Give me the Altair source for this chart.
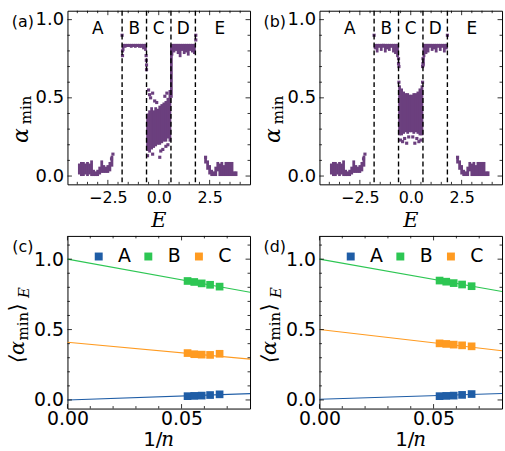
import altair as alt
import pandas as pd

FONT = "DejaVu Sans"
SERIF = "DejaVu Serif"
PURPLE = "#6b3f7e"
BLUE, GREEN, ORANGE = "#1f5da6", "#2dc653", "#ff9b21"

# ---------------- panels (a), (b): alpha_min versus E ----------------
boundary_E = [-1.8, -0.6, 0.6, 1.8]
region_names = ["A", "B", "C", "D", "E"]
region_E = [-3.0, -1.2, 0.0, 1.2, 3.0]
region_alpha = [0.94, 0.94, 0.94, 0.94, 0.94]

# dense point columns: E, lowest alpha, highest alpha
A_E  = [-3.90, -3.80, -3.70, -3.60, -3.50, -3.40, -3.30, -3.20, -3.10, -3.00, -2.90, -2.80, -2.70, -2.60, -2.50, -2.40, -2.30]
A_lo = [0.01, 0.00, 0.00, 0.01, 0.00, 0.01, 0.00, 0.00, 0.00, 0.00, 0.01, 0.02, 0.02, 0.02, 0.02, 0.03, 0.06]
A_hi = [0.08, 0.09, 0.09, 0.08, 0.09, 0.08, 0.10, 0.04, 0.03, 0.04, 0.06, 0.10, 0.07, 0.06, 0.07, 0.09, 0.13]

Ecl_E  = [2.30, 2.40, 2.50, 2.60, 2.70, 2.80, 2.90, 3.00, 3.10, 3.20, 3.30, 3.40, 3.50, 3.60, 3.70, 3.80]
Ecl_lo = [0.08, 0.04, 0.01, 0.00, 0.00, 0.00, 0.03, 0.00, 0.00, 0.00, 0.00, 0.00, 0.00, 0.00, 0.00, 0.00]
Ecl_hi = [0.12, 0.10, 0.07, 0.04, 0.03, 0.06, 0.09, 0.08, 0.09, 0.07, 0.09, 0.09, 0.09, 0.09, 0.03, 0.03]

B_E  = [-1.75, -1.65, -1.55, -1.45, -1.35, -1.25, -1.15, -1.05, -0.95, -0.85, -0.75, -0.65]
D_E  = [0.65, 0.75, 0.85, 0.95, 1.05, 1.15, 1.25, 1.35, 1.45, 1.55, 1.65, 1.75]
BD_hi = [0.845, 0.845, 0.845, 0.845, 0.845, 0.845, 0.845, 0.845, 0.845, 0.845, 0.845, 0.845]
B_lo_a = [0.80, 0.82, 0.825, 0.825, 0.82, 0.825, 0.82, 0.825, 0.82, 0.82, 0.81, 0.80]
D_lo_a = [0.77, 0.79, 0.80, 0.78, 0.76, 0.80, 0.78, 0.79, 0.77, 0.80, 0.79, 0.78]
B_lo_b = [0.81, 0.79, 0.82, 0.80, 0.82, 0.79, 0.81, 0.80, 0.82, 0.79, 0.78, 0.76]
D_lo_b = [0.76, 0.78, 0.79, 0.82, 0.80, 0.81, 0.79, 0.82, 0.80, 0.82, 0.79, 0.81]

C_E  = [-0.55, -0.45, -0.35, -0.25, -0.15, -0.05, 0.05, 0.15, 0.25, 0.35, 0.45, 0.55, 0.62]
C_lo_a = [0.16, 0.15, 0.17, 0.18, 0.19, 0.20, 0.20, 0.21, 0.22, 0.22, 0.24, 0.22, 0.50]
C_hi_a = [0.40, 0.42, 0.44, 0.42, 0.44, 0.43, 0.45, 0.46, 0.47, 0.48, 0.50, 0.55, 0.84]
C_lo_b = [0.26, 0.26, 0.27, 0.28, 0.27, 0.28, 0.28, 0.27, 0.28, 0.27, 0.26, 0.26, 0.70]
C_hi_b = [0.58, 0.56, 0.54, 0.53, 0.53, 0.52, 0.52, 0.53, 0.53, 0.54, 0.56, 0.58, 0.76]

# isolated points
pts_E_a = [-2.25, -2.32, 2.30, -1.80, -1.78, -1.78, -0.62, -0.61, -0.60, -0.60, 1.82, 1.82,
           -0.50, -0.45, -0.40, -0.30, -0.20, -0.10, 0.30, 0.40, 0.20, 0.10, -0.30, 0.35, 0.45, 0.05, -0.55]
pts_a_a = [0.14, 0.11, 0.12, 0.90, 0.80, 0.77, 0.77, 0.74, 0.71, 0.68, 0.90, 0.87,
           0.55, 0.52, 0.50, 0.53, 0.48, 0.47, 0.51, 0.53, 0.17, 0.16, 0.14, 0.19, 0.20, 0.12, 0.13]
pts_E_b = [-2.25, -2.32, 2.30, -1.80, -0.60, -0.60, -0.58, 0.60, 0.60, 0.58, 1.80,
           -0.50, -0.30, -0.10, 0.10, 0.30, 0.50, -0.40, 0.40, -0.20, 0.20, -0.58, 0.58]
pts_a_b = [0.14, 0.11, 0.12, 0.90, 0.75, 0.72, 0.70, 0.75, 0.72, 0.70, 0.90,
           0.23, 0.24, 0.25, 0.25, 0.24, 0.23, 0.22, 0.22, 0.21, 0.21, 0.60, 0.60]

top_xmaj = [-2.5, 0.0, 2.5]
top_xmin = [-4.0, -3.5, -3.0, -2.0, -1.5, -1.0, -0.5, 0.5, 1.0, 1.5, 2.0, 3.0, 3.5, 4.0]
ymaj = [0.0, 0.5, 1.0]
ymin_top = [0.1, 0.2, 0.3, 0.4, 0.6, 0.7, 0.8, 0.9]

# ---------------- panels (c), (d): <alpha_min>_E versus 1/n ----------------
series = ["A", "B", "C"]
series_colors = [BLUE, GREEN, ORANGE]
inv_n = [1/19, 1/18, 1/17, 1/16, 1/15]
A_c = [0.027, 0.029, 0.031, 0.035, 0.040]
B_c = [0.845, 0.838, 0.828, 0.818, 0.805]
C_c = [0.333, 0.325, 0.322, 0.320, 0.328]
A_d = [0.027, 0.029, 0.031, 0.036, 0.042]
B_d = [0.848, 0.840, 0.830, 0.820, 0.808]
C_d = [0.402, 0.398, 0.393, 0.388, 0.381]
fit_x = [0.0, 0.08]
fitA_c, fitB_c, fitC_c = [0.0, 0.045], [1.0, 0.765], [0.41, 0.29]
fitA_d, fitB_d, fitC_d = [0.005, 0.046], [1.0, 0.77], [0.50, 0.35]

bot_xmaj = [0.0, 0.05]
bot_xmin = [0.01, 0.02, 0.03, 0.04, 0.06, 0.07]
ymin_bot = [0.1, 0.2, 0.3, 0.4, 0.6, 0.7, 0.8, 0.9, 1.1]

W = 184
H_TOP = 175
H_BOT = 174

xs_top = alt.Scale(domain=[-4.24, 4.24], nice=False, zero=False)
ys_top = alt.Scale(domain=[-0.053, 1.057], nice=False, zero=False)
xs_bot = alt.Scale(domain=[0.0, 0.08], nice=False, zero=False)
ys_bot = alt.Scale(domain=[-0.061, 1.165], nice=False, zero=False)


def axis(values, fmt, size, pad, orient):
    return alt.Axis(values=values, orient=orient, format=fmt,
                    labelExpr="replace(datum.label, '-', '\u2212')",
                    ticks=False, domain=False, grid=False, labelFont=FONT,
                    labelFontSize=size, labelColor="black", labelPadding=pad,
                    labelFlush=False, labelOverlap=False, title=None)


def tick_layers(X, Y, xmaj, xmin, ymajv, yminv, H):
    out = []
    for vals, L in ((xmaj, 4.5), (xmin, 2.5)):
        d = alt.Chart(pd.DataFrame({"v": vals}))
        out.append(d.mark_rule(color="black", strokeWidth=0.8).encode(
            x=X("v"), y=alt.value(H), y2=alt.value(H - L)))
        out.append(d.mark_rule(color="black", strokeWidth=0.8).encode(
            x=X("v"), y=alt.value(0), y2=alt.value(L)))
    for vals, L in ((ymajv, 4.5), (yminv, 2.5)):
        d = alt.Chart(pd.DataFrame({"v": vals}))
        out.append(d.mark_rule(color="black", strokeWidth=0.8).encode(
            y=Y("v"), x=alt.value(0), x2=alt.value(L)))
        out.append(d.mark_rule(color="black", strokeWidth=0.8).encode(
            y=Y("v"), x=alt.value(W), x2=alt.value(W - L)))
    return out


def label(txt, x, y, size, font=FONT, style="normal", angle=0):
    return alt.Chart(pd.DataFrame({"t": [txt]})).mark_text(
        font=font, fontSize=size, fontStyle=style, angle=angle, color="black",
        align="center", baseline="middle").encode(
        text="t:N", x=alt.value(x), y=alt.value(y))


def X_top(f):
    return alt.X(f"{f}:Q", scale=xs_top, axis=axis(top_xmaj, ".1f", 16, 5, "bottom"))


def Y_top(f):
    return alt.Y(f"{f}:Q", scale=ys_top, axis=axis(ymaj, ".1f", 18, 4, "left"))


def X_bot(f):
    return alt.X(f"{f}:Q", scale=xs_bot, axis=axis(bot_xmaj, ".2f", 19, 1, "bottom"))


def Y_bot(f):
    return alt.Y(f"{f}:Q", scale=ys_bot, axis=axis(ymaj, ".1f", 19, 4, "left"))


def top_panel(tag, cE, clo, chi, pE, pa):
    cols = pd.DataFrame({"E": cE, "lo": clo, "hi": chi})
    pts = pd.DataFrame({"E": pE, "a": pa})
    bars = alt.Chart(cols).mark_bar(color=PURPLE, size=2.8, opacity=1).encode(
        x=X_top("E"), y=Y_top("lo"), y2="hi:Q")
    dots = alt.Chart(pts).mark_square(color=PURPLE, size=10, opacity=1).encode(
        x=X_top("E"), y=Y_top("a"))
    dash = alt.Chart(pd.DataFrame({"E": boundary_E})).mark_rule(
        color="black", strokeDash=[5, 3], strokeWidth=1.4).encode(x=X_top("E"))
    names = alt.Chart(pd.DataFrame({"E": region_E, "a": region_alpha, "n": region_names})).mark_text(
        font=FONT, fontSize=17, color="black").encode(x=X_top("E"), y=Y_top("a"), text="n:N")
    layers = [bars, dots, dash, names] + tick_layers(X_top, Y_top, top_xmaj, top_xmin, ymaj, ymin_top, H_TOP)
    layers += [
        label(tag, -45, 11, 16),
        label("\u03b1", -47, 126, 22, SERIF, "italic", 270),
        label("min", -42, 100, 15, SERIF, "normal", 270),
        label("E", W / 2, H_TOP + 37, 21, SERIF, "italic"),
    ]
    return alt.layer(*layers).properties(width=W, height=H_TOP)


cscale = alt.Scale(domain=series, range=series_colors)


def bottom_panel(tag, vals, fits):
    pts = pd.DataFrame({"x": inv_n * 3, "y": vals[0] + vals[1] + vals[2],
                        "s": ["A"] * 5 + ["B"] * 5 + ["C"] * 5})
    lines = []
    for fy, col in zip(fits, series_colors):
        lines.append(alt.Chart(pd.DataFrame({"x": fit_x, "y": fy})).mark_line(
            strokeWidth=1.1, color=col).encode(x=X_bot("x"), y=Y_bot("y")))
    sq = alt.Chart(pts).mark_square(size=60, opacity=1).encode(
        x=X_bot("x"), y=Y_bot("y"),
        color=alt.Color("s:N", scale=cscale, legend=alt.Legend(
            orient="none", legendX=22, legendY=11, direction="horizontal", title=None,
            symbolType="square", symbolSize=64, symbolStrokeWidth=0, symbolOpacity=1,
            labelFont=FONT, labelFontSize=19, labelColor="black", labelOffset=10,
            columnPadding=8, padding=0)))
    layers = lines + [sq] + tick_layers(X_bot, Y_bot, bot_xmaj, bot_xmin, ymaj, ymin_bot, H_BOT)
    layers += [
        label(tag, -45, 11, 16),
        label("\u27e8\u03b1", -50, 117, 21, SERIF, "italic", 270),
        label("min", -45, 91, 15, SERIF, "normal", 270),
        label("\u27e9", -50, 72, 21, SERIF, "normal", 270),
        label("E", -44, 57, 15, SERIF, "italic", 270),
        label("1/", W / 2 - 6, H_BOT + 32, 20, FONT),
        label("n", W / 2 + 9, H_BOT + 32, 20, SERIF, "italic"),
    ]
    return alt.layer(*layers).properties(width=W, height=H_BOT)


pa = top_panel("(a)", A_E + B_E + C_E + D_E + Ecl_E, A_lo + B_lo_a + C_lo_a + D_lo_a + Ecl_lo,
               A_hi + BD_hi + C_hi_a + BD_hi + Ecl_hi, pts_E_a, pts_a_a)
pb = top_panel("(b)", A_E + B_E + C_E + D_E + Ecl_E, A_lo + B_lo_b + C_lo_b + D_lo_b + Ecl_lo,
               A_hi + BD_hi + C_hi_b + BD_hi + Ecl_hi, pts_E_b, pts_a_b)
pc = bottom_panel("(c)", [A_c, B_c, C_c], [fitA_c, fitB_c, fitC_c])
pd_ = bottom_panel("(d)", [A_d, B_d, C_d], [fitA_d, fitB_d, fitC_d])

chart = alt.concat(pa, pb, pc, pd_, columns=2, spacing=alt.RowColnumber(row=52, column=70),
                   bounds="flush").resolve_scale(
    x="independent", y="independent", color="independent").properties(
    padding={"left": 6, "top": 7, "right": 0, "bottom": 0},
    background="white").configure_view(stroke="black", strokeWidth=1)

chart.save("out.html", embed_options={"renderer": "svg", "actions": False})
